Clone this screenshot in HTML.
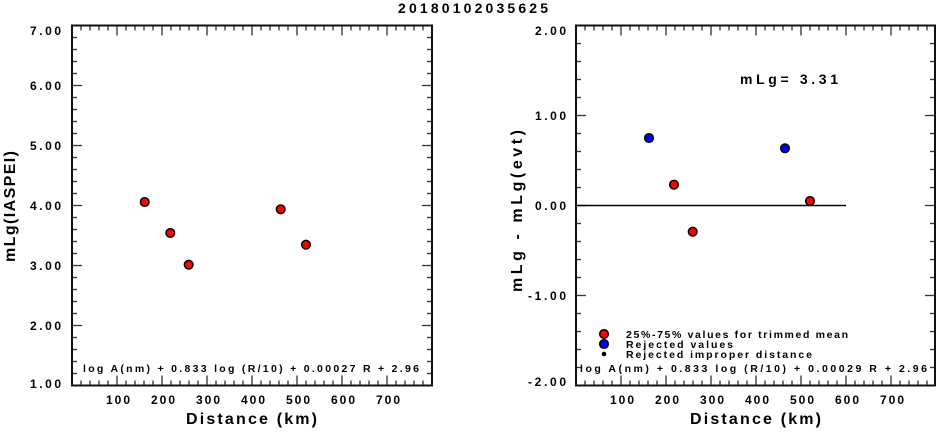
<!DOCTYPE html>
<html><head><meta charset="utf-8"><style>
html,body{margin:0;padding:0;background:#fff;}
svg text{font-family:"Liberation Sans",sans-serif;font-weight:bold;fill:#000;}
</style></head><body>
<svg width="937" height="428" viewBox="0 0 937 428" xmlns="http://www.w3.org/2000/svg">
<text x="398" y="13" font-size="14" textLength="150" lengthAdjust="spacing">20180102035625</text>
<g id="ticksL" stroke="#333" stroke-width="1.3" fill="none"></g>
<g id="ticksR" stroke="#333" stroke-width="1.3" fill="none"></g>
<rect x="72" y="25.5" width="360" height="360" fill="none" stroke="#111" stroke-width="2"/>
<rect x="576" y="25.5" width="359" height="360" fill="none" stroke="#111" stroke-width="2"/>
<g font-size="12" id="ylab"></g>
<g font-size="12" id="xlab"></g>
<g font-size="16">
<text x="186" y="424" textLength="131" lengthAdjust="spacing">Distance (km)</text>
<text x="690" y="424" textLength="131" lengthAdjust="spacing">Distance (km)</text>
<text transform="translate(15,262) rotate(-90)" textLength="111" lengthAdjust="spacing">mLg(IASPEI)</text>
<text transform="translate(522,292) rotate(-90)" textLength="162" lengthAdjust="spacing">mLg - mLg(evt)</text>
</g>
<g font-size="10.5">
<text x="83" y="372" textLength="336" lengthAdjust="spacing">log A(nm) + 0.833 log (R/10) + 0.00027 R + 2.96</text>
<text x="580" y="372" textLength="347" lengthAdjust="spacing">log A(nm) + 0.833 log (R/10) + 0.00029 R  + 2.96</text>
<text x="626" y="338" textLength="222" lengthAdjust="spacing">25%-75% values for trimmed mean</text>
<text x="626" y="348" textLength="107" lengthAdjust="spacing">Rejected values</text>
<text x="626" y="358" textLength="186" lengthAdjust="spacing">Rejected improper distance</text>
</g>
<text x="740" y="84" font-size="14" textLength="98" lengthAdjust="spacing">mLg= 3.31</text>
<line x1="576" y1="205.5" x2="846" y2="205.5" stroke="#000" stroke-width="1.5"/>
<g stroke="#000" stroke-width="1.5">
<circle cx="144.7" cy="202" r="4.3" fill="#f00"/>
<circle cx="170.3" cy="233" r="4.3" fill="#f00"/>
<circle cx="188.7" cy="264.7" r="4.3" fill="#f00"/>
<circle cx="280.7" cy="209.3" r="4.3" fill="#f00"/>
<circle cx="306" cy="244.7" r="4.3" fill="#f00"/>
<circle cx="649" cy="138" r="4.3" fill="#00f"/>
<circle cx="674" cy="184.7" r="4.3" fill="#f00"/>
<circle cx="692.7" cy="231.7" r="4.3" fill="#f00"/>
<circle cx="785" cy="148.3" r="4.3" fill="#00f"/>
<circle cx="810" cy="201" r="4.3" fill="#f00"/>
<circle cx="604" cy="334" r="4.3" fill="#f00"/>
<circle cx="604" cy="344" r="4.3" fill="#00f"/>
</g>
<circle cx="604" cy="354" r="2.3" fill="#000"/>
</svg>
<script>
function ticks(id,x0,x1,y0,y1,ystep,ymajEvery){
 var g=document.getElementById(id),s='';
 for(var i=1;i<40;i++){var x=x0+i*9;if(x>=x1-1)break;var L=(i%5==0)?10:5;
  s+='<line x1="'+x+'" y1="'+y0+'" x2="'+x+'" y2="'+(y0+L)+'"/>';
  s+='<line x1="'+x+'" y1="'+y1+'" x2="'+x+'" y2="'+(y1-L)+'"/>';}
 var n=Math.round((y1-y0)/ystep);
 for(var j=1;j<n;j++){var y=y0+j*ystep;var L=(j%ymajEvery==0)?10:5;
  s+='<line x1="'+x0+'" y1="'+y+'" x2="'+(x0+L)+'" y2="'+y+'"/>';
  s+='<line x1="'+x1+'" y1="'+y+'" x2="'+(x1-L)+'" y2="'+y+'"/>';}
 g.innerHTML=s;}
ticks('ticksL',72,432,25.5,385.5,12,5);
ticks('ticksR',576,935,25.5,385.5,18,5);
var yl='';
[['7.00',35],['6.00',90],['5.00',150],['4.00',210],['3.00',270],['2.00',330],['1.00',388]].forEach(function(a){
 yl+='<text x="30" y="'+a[1]+'" textLength="31" lengthAdjust="spacing">'+a[0]+'</text>';});
[['2.00',35],['1.00',120],['0.00',210],['-1.00',300],['-2.00',386]].forEach(function(a){
 var w=a[0].length==5?38:31;
 yl+='<text x="'+(566-w)+'" y="'+a[1]+'" textLength="'+w+'" lengthAdjust="spacing">'+a[0]+'</text>';});
document.getElementById('ylab').innerHTML=yl;
var xl='';
for(var k=1;k<=7;k++){
 [72,576].forEach(function(o){var c=o+k*45+1;
 xl+='<text x="'+(c-12)+'" y="404" textLength="24" lengthAdjust="spacing">'+(k*100)+'</text>';});}
document.getElementById('xlab').innerHTML=xl;
</script>
</body></html>
